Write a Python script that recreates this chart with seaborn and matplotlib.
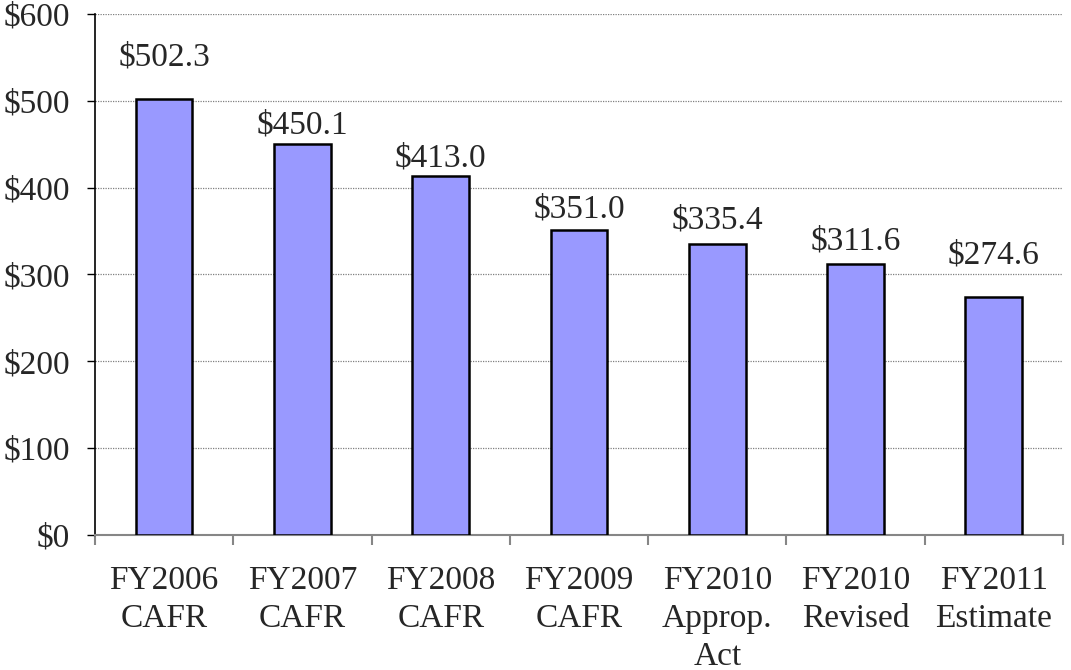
import pandas as pd
import seaborn as sns
import matplotlib.pyplot as plt
from matplotlib.ticker import FuncFormatter, MultipleLocator, FixedLocator

categories = ["FY2006\nCAFR", "FY2007\nCAFR", "FY2008\nCAFR", "FY2009\nCAFR",
              "FY2010\nApprop.\nAct", "FY2010\nRevised", "FY2011\nEstimate"]
values = [502.3, 450.1, 413.0, 351.0, 335.4, 311.6, 274.6]

# gap between bar top and label baseline, in pixels (labels were hand-placed in the original)
label_pad = [33, 11, 10, 13, 15, 15, 33]

sns.set_style("white")
plt.rcParams["font.family"] = ["Liberation Serif", "DejaVu Serif"]

df = pd.DataFrame({"cat": categories, "val": values})

fig = plt.figure(figsize=(10.71, 6.70), dpi=100)
ax = fig.add_axes([0.0887, 0.2015, 0.9038, 0.7776])

sns.barplot(data=df, x="cat", y="val", ax=ax, width=0.41, color="#9999FF",
            saturation=1, edgecolor="black", linewidth=1.8, zorder=3)

ax.set_ylim(0, 600)
ax.set_xlim(-0.5, len(categories) - 0.5)
ax.yaxis.set_major_locator(MultipleLocator(100))
ax.yaxis.set_major_formatter(FuncFormatter(lambda v, p: f"${v:.0f}"))
ax.grid(axis="y", color="#808080", linestyle=(0, (1, 1)), linewidth=0.9, zorder=0)
ax.set_xlabel("")
ax.set_ylabel("")

for s in ["top", "right"]:
    ax.spines[s].set_visible(False)
ax.spines["left"].set_color("black")
ax.spines["left"].set_linewidth(1.2)
ax.spines["bottom"].set_color("#868686")
ax.spines["bottom"].set_linewidth(1.5)

ax.tick_params(axis="y", which="major", direction="out", length=6, width=1,
               color="black", labelsize=24, pad=12, left=True)
ax.tick_params(axis="x", which="major", length=0, labelsize=24, pad=22)
ax.xaxis.set_minor_locator(FixedLocator([i - 0.5 for i in range(len(categories) + 1)]))
ax.tick_params(axis="x", which="minor", direction="out", length=7, width=1.5,
               color="#868686", bottom=True)
for lbl in ax.get_xticklabels():
    lbl.set_linespacing(1.32)

for i, (v, pad) in enumerate(zip(values, label_pad)):
    ax.annotate(f"${v:.1f}", (i, v), xytext=(0, pad), textcoords="offset pixels",
                ha="center", va="baseline", fontsize=24)

fig.savefig("out.png", dpi=100)
